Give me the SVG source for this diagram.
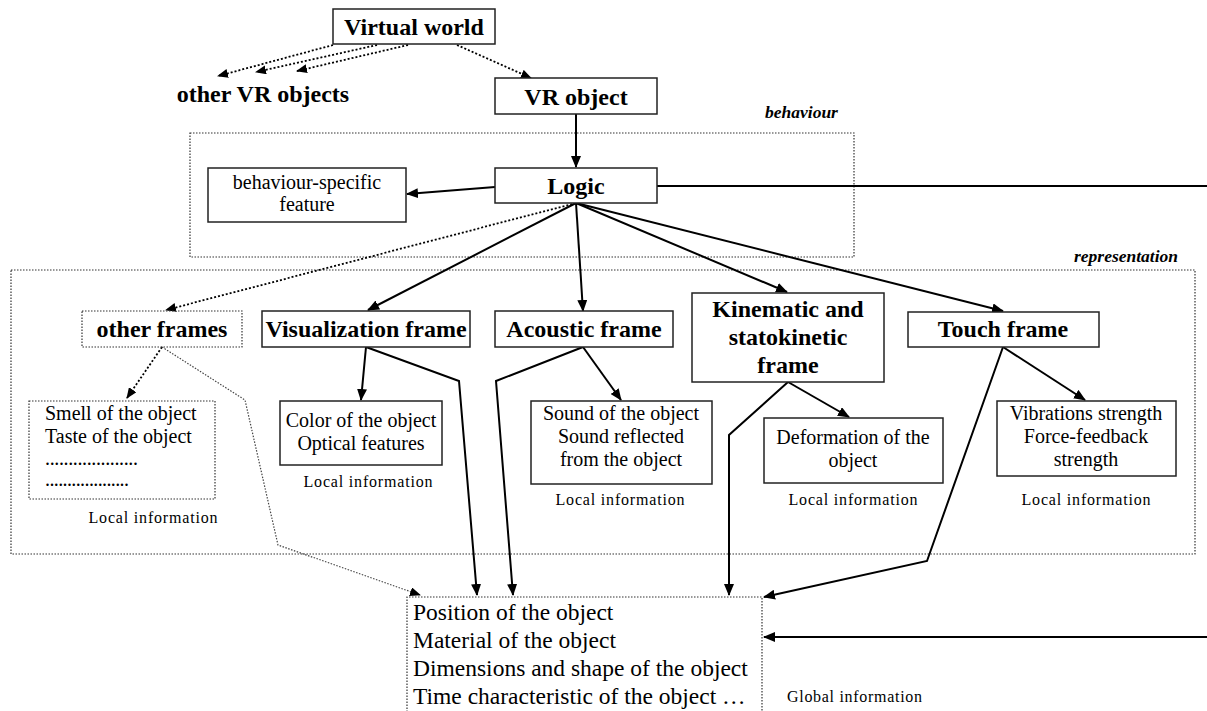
<svg xmlns="http://www.w3.org/2000/svg" width="1207" height="711" viewBox="0 0 1207 711">
<defs>
<style>
.box{fill:#fff;stroke:#222;stroke-width:1.5}
.dbox{fill:none;stroke:#333;stroke-width:1.2;stroke-dasharray:1.5 1.5}
.t{font-family:"Liberation Serif","Times New Roman",serif;fill:#000}
.title{font-size:24px;font-weight:bold;text-anchor:middle}
.body{font-size:20px;text-anchor:middle}
.loc{font-size:16px;text-anchor:middle}
.lab{font-size:17.5px;font-weight:bold;font-style:italic}
.ln{fill:none;stroke:#000;stroke-width:2}
.dl{fill:none;stroke:#000;stroke-width:1.8;stroke-dasharray:2 2}
.dl2{fill:none;stroke:#444;stroke-width:1.2;stroke-dasharray:1.5 1.5}
</style>
<marker id="ah" markerWidth="12" markerHeight="10" refX="11" refY="5" orient="auto" markerUnits="userSpaceOnUse"><path d="M0,0 L12,5 L0,10 Z" fill="#000"/></marker>
<marker id="ahs" markerWidth="11" markerHeight="9" refX="10" refY="4.5" orient="auto" markerUnits="userSpaceOnUse"><path d="M0,0 L11,4.5 L0,9 Z" fill="#000"/></marker>
</defs>

<g id="regions">
<rect class="dbox" x="190" y="133" width="664" height="124"/>
<text class="t lab" x="765" y="118">behaviour</text>
<rect class="dbox" x="11" y="270" width="1184" height="284"/>
<text class="t lab" x="1074" y="262">representation</text>
</g>

<g id="connectors">
<path class="dl" d="M333,45 L218,76" marker-end="url(#ahs)"/>
<path class="dl" d="M377,45 L256,72" marker-end="url(#ahs)"/>
<path class="dl" d="M408,45 L297,71" marker-end="url(#ahs)"/>
<path class="dl" d="M457,45 L531,78" marker-end="url(#ahs)"/>
<path class="ln" d="M576,114 L576,167" marker-end="url(#ah)"/>
<path class="ln" d="M495,187 L407,194" marker-end="url(#ah)"/>
<path class="ln" d="M657,186 L1207,186"/>
<path class="dl" d="M576,203 L166,310" marker-end="url(#ahs)"/>
<path class="ln" d="M576,203 L368,310" marker-end="url(#ah)"/>
<path class="ln" d="M576,203 L583,311" marker-end="url(#ah)"/>
<path class="ln" d="M576,203 L787,292" marker-end="url(#ah)"/>
<path class="ln" d="M576,203 L1003,311" marker-end="url(#ah)"/>
<path class="dl" d="M162,347 L127,398" marker-end="url(#ahs)"/>
<path class="ln" d="M366,347 L361,400" marker-end="url(#ah)"/>
<path class="ln" d="M583,347 L621,400" marker-end="url(#ah)"/>
<path class="ln" d="M788,382 L849,417" marker-end="url(#ah)"/>
<path class="ln" d="M1003,347 L1085,400" marker-end="url(#ah)"/>
<path class="dl2" d="M162,347 L245,400 L278,545 L420,595" marker-end="url(#ahs)"/>
<path class="ln" d="M366,347 L459,381 L477,595" marker-end="url(#ah)"/>
<path class="ln" d="M583,347 L496,381 L513,595" marker-end="url(#ah)"/>
<path class="ln" d="M788,382 L729,435 L729,595" marker-end="url(#ah)"/>
<path class="ln" d="M1003,347 L927,561 L764,597" marker-end="url(#ah)"/>
<path class="ln" d="M1207,637 L764,637" marker-end="url(#ah)"/>
</g>

<g id="virtual-world">
<rect class="box" x="333" y="9" width="162" height="35"/>
<text class="t title" x="414" y="35">Virtual world</text>
</g>
<g id="other-vr-objects">
<text class="t title" x="263" y="102">other VR objects</text>
</g>
<g id="vr-object">
<rect class="box" x="495" y="78" width="162" height="36"/>
<text class="t title" x="576" y="105">VR object</text>
</g>
<g id="logic">
<rect class="box" x="495" y="168" width="162" height="35"/>
<text class="t title" x="576" y="194">Logic</text>
</g>
<g id="behaviour-feature">
<rect class="box" x="208" y="168" width="198" height="54"/>
<text class="t body" x="307" y="189">behaviour-specific</text>
<text class="t body" x="307" y="211">feature</text>
</g>

<g id="other-frames">
<rect class="dbox" x="82" y="311" width="160" height="36"/>
<text class="t title" x="162" y="337">other frames</text>
</g>
<g id="visualization-frame">
<rect class="box" x="262" y="311" width="208" height="36"/>
<text class="t title" x="366" y="337">Visualization frame</text>
</g>
<g id="acoustic-frame">
<rect class="box" x="495" y="311" width="178" height="36"/>
<text class="t title" x="584" y="337">Acoustic frame</text>
</g>
<g id="kinematic-frame">
<rect class="box" x="692" y="293" width="192" height="89"/>
<text class="t title" x="788" y="317">Kinematic and</text>
<text class="t title" x="788" y="345">statokinetic</text>
<text class="t title" x="788" y="373">frame</text>
</g>
<g id="touch-frame">
<rect class="box" x="908" y="312" width="191" height="35"/>
<text class="t title" x="1003" y="337">Touch frame</text>
</g>

<g id="other-local">
<rect class="dbox" x="29" y="401" width="186" height="98"/>
<text class="t body" x="45" y="420" style="text-anchor:start">Smell of the object</text>
<text class="t body" x="45" y="443" style="text-anchor:start">Taste of the object</text>
<text class="t body" x="45" y="465" style="text-anchor:start" textLength="93">....................</text>
<text class="t body" x="45" y="486" style="text-anchor:start" textLength="84">...................</text>
<text class="t loc" x="153" y="523" textLength="129">Local information</text>
</g>
<g id="visual-local">
<rect class="box" x="280" y="401" width="162" height="64"/>
<text class="t body" x="361" y="427">Color of the object</text>
<text class="t body" x="361" y="450">Optical features</text>
<text class="t loc" x="368" y="487" textLength="129">Local information</text>
</g>
<g id="acoustic-local">
<rect class="box" x="531" y="401" width="181" height="83"/>
<text class="t body" x="621" y="420">Sound of the object</text>
<text class="t body" x="621" y="443">Sound reflected</text>
<text class="t body" x="621" y="466">from the object</text>
<text class="t loc" x="620" y="505" textLength="129">Local information</text>
</g>
<g id="kinematic-local">
<rect class="box" x="764" y="418" width="179" height="65"/>
<text class="t body" x="853" y="444">Deformation of the</text>
<text class="t body" x="853" y="467">object</text>
<text class="t loc" x="853" y="505" textLength="129">Local information</text>
</g>
<g id="touch-local">
<rect class="box" x="997" y="401" width="179" height="75"/>
<text class="t body" x="1086" y="420">Vibrations strength</text>
<text class="t body" x="1086" y="443">Force-feedback</text>
<text class="t body" x="1086" y="466">strength</text>
<text class="t loc" x="1086" y="505" textLength="129">Local information</text>
</g>

<g id="global-info">
<path class="dbox" d="M407,715 L407,597 L762,597 L762,715"/>
<text class="t" x="413" y="620" style="font-size:23.5px">Position of the object</text>
<text class="t" x="413" y="648" style="font-size:23.5px">Material of the object</text>
<text class="t" x="413" y="676" style="font-size:23.5px">Dimensions and shape of the object</text>
<text class="t" x="413" y="704" style="font-size:23.5px">Time characteristic of the object …</text>
<text class="t" x="787" y="702" style="font-size:16px" textLength="135">Global information</text>
</g>
</svg>
